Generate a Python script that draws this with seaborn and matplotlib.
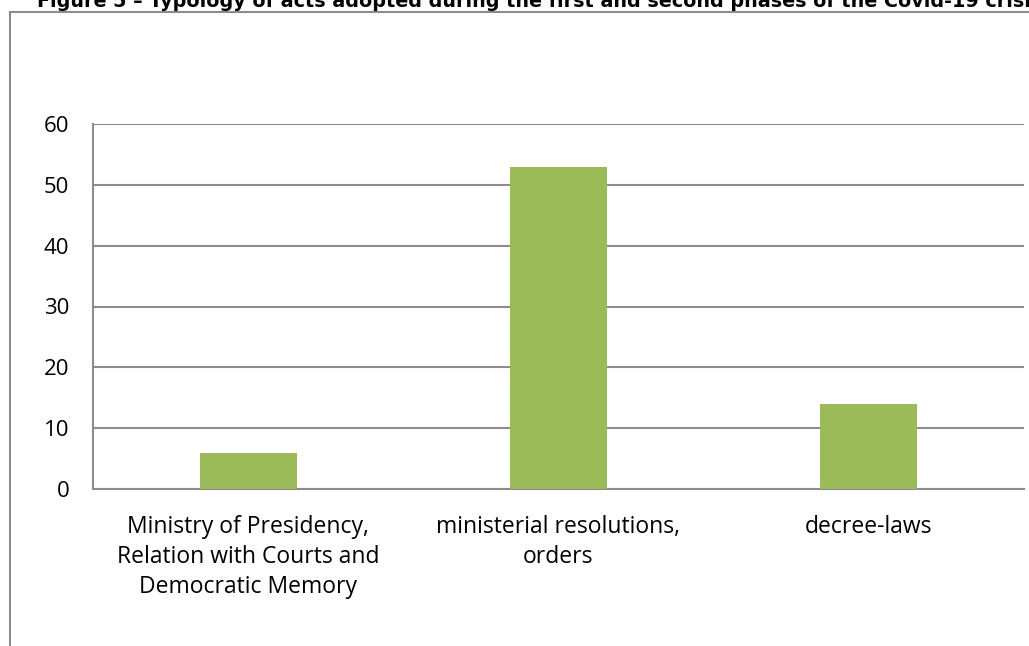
import matplotlib
matplotlib.use("Agg")
import matplotlib.pyplot as plt
import seaborn as sns
import pandas as pd
from matplotlib.patches import Rectangle

categories = ["Ministry of Presidency,\nRelation with Courts and\nDemocratic Memory",
              "ministerial resolutions,\norders",
              "decree-laws"]
values = [6, 53, 14]
yticks = [0, 10, 20, 30, 40, 50, 60]
title = "Figure 5 \u2013 Typology of acts adopted during the first and second phases of the Covid-19 crisis"

sns.set_theme(style="white")
plt.rcParams['font.family'] = ['Open Sans', 'DejaVu Sans']

W, H = 1029, 646
fig = plt.figure(figsize=(W / 100, H / 100), dpi=100)
ax = fig.add_axes([93 / W, 1 - 489 / H, (1024 - 93) / W, (489 - 124) / H])

df = pd.DataFrame({"cat": categories, "val": values})
sns.barplot(data=df, x="cat", y="val", color="#9BBB59", saturation=1,
            width=0.313, ax=ax, zorder=3, linewidth=0)

gray = "#8c8c8c"
ax.set_ylim(0, 60)
ax.set_yticks(yticks)
ax.set_xlim(-0.5, 2.5)
ax.yaxis.grid(True, color=gray, linewidth=1.5, zorder=0)
ax.set_axisbelow(True)
for s in ["top", "right"]:
    ax.spines[s].set_visible(False)
for s in ["left", "bottom"]:
    ax.spines[s].set_color(gray)
    ax.spines[s].set_linewidth(1.5)
ax.set_xlabel("")
ax.set_ylabel("")
ax.tick_params(axis="y", length=0, pad=17, labelsize=16, colors="black")
ax.tick_params(axis="x", length=0, pad=18.5, labelsize=16.5, colors="black")
for lab in ax.get_xticklabels():
    lab.set_linespacing(1.35)
    lab.set_ha("center")

# outer frame
fig.patches.append(Rectangle((10 / W, -0.1), 1.2, 1 - 12 / H + 0.1,
                             transform=fig.transFigure, fill=False,
                             edgecolor=gray, linewidth=1.5))

fig.text(37 / W, 1 - 7 / H, title, ha="left", va="baseline",
         fontsize=13.8, fontweight="bold", family=["DejaVu Sans"], color="black")

fig.savefig("out.png", dpi=100, facecolor="white")
